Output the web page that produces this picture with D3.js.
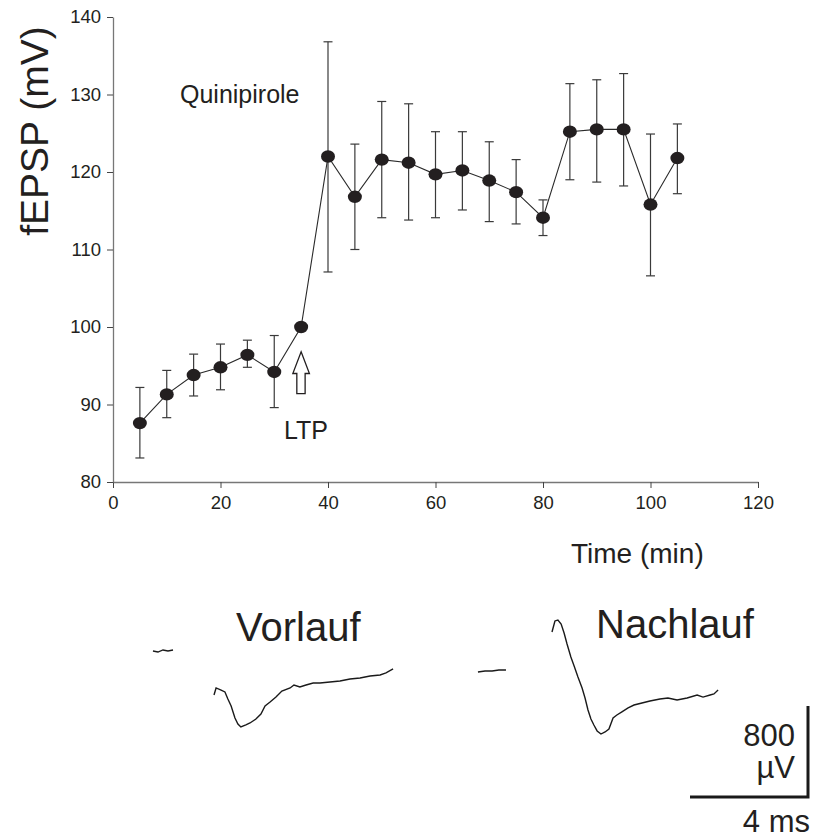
<!DOCTYPE html>
<html>
<head>
<meta charset="utf-8">
<script src="https://cdn.jsdelivr.net/npm/d3@7"></script>
<style>
    body { margin: 0; background: #fff; }
    svg text { font-family: Arial, 'Liberation Sans', sans-serif; fill: #231f20; }
</style>
</head>
<body>
<div class="fepspChart"></div>
<script>
// fEPSP over time, mean +/- error
let times = [5, 10, 15, 20, 25, 30, 35, 40, 45, 50, 55, 60, 65, 70, 75, 80, 85, 90, 95, 100, 105];
let means = [87.6, 91.3, 93.8, 94.8, 96.4, 94.2, 100.0, 122.0, 116.8, 121.6, 121.2, 119.7, 120.2, 118.9, 117.4, 114.1, 125.2, 125.5, 125.5, 115.8, 121.8];
let upper = [92.2, 94.4, 96.5, 97.8, 98.3, 98.9, null, 136.8, 123.6, 129.1, 128.8, 125.2, 125.2, 123.9, 121.6, 116.4, 131.4, 131.9, 132.7, 124.9, 126.2];
let lower = [83.1, 88.3, 91.1, 91.9, 94.8, 89.6, null, 107.1, 110.0, 114.1, 113.8, 114.1, 115.1, 113.6, 113.3, 111.8, 119.0, 118.7, 118.2, 106.6, 117.2];
let xTicks = [0, 20, 40, 60, 80, 100, 120];
let yTicks = [80, 90, 100, 110, 120, 130, 140];

// example traces, time in ms, amplitude in µV
let preBaseT = [0.10, 0.27, 0.44, 0.61, 0.78];
let preBaseV = [0, -9, 9, 0, 9];
let preT = [2.17, 2.24, 2.41, 2.54, 2.64, 2.75, 2.88, 2.98, 3.08, 3.25, 3.39, 3.59, 3.76, 3.90, 4.07, 4.27, 4.47, 4.75, 4.88, 5.08, 5.29, 5.53, 5.76, 6.10, 6.44, 6.78, 7.12, 7.46, 7.80, 8.00, 8.24];
let preV = [-387, -325, -343, -360, -422, -483, -589, -642, -668, -650, -633, -598, -554, -483, -448, -404, -352, -325, -299, -316, -299, -281, -281, -272, -264, -246, -237, -220, -211, -193, -158];
let postBaseT = [0.10, 0.34, 0.58, 0.81, 1.05];
let postBaseV = [-9, 0, 0, 9, 9];
let postT = [2.61, 2.71, 2.81, 2.92, 3.02, 3.12, 3.25, 3.36, 3.49, 3.63, 3.73, 3.83, 3.93, 4.03, 4.14, 4.27, 4.41, 4.54, 4.68, 4.81, 4.98, 5.19, 5.39, 5.66, 5.93, 6.27, 6.54, 6.85, 7.19, 7.53, 7.73, 7.97, 8.10, 8.24];
let postV = [343, 440, 448, 413, 334, 237, 123, 44, -53, -149, -237, -343, -422, -475, -527, -554, -536, -510, -413, -387, -360, -325, -299, -281, -264, -246, -237, -255, -237, -211, -229, -211, -202, -167];
let scaleBarMs = 4;
let scaleBarUv = 800;

let width = 814, height = 838;
let svg = d3.select('.fepspChart').append('svg')
    .attr('width', width)
    .attr('height', height);

let x = d3.scaleLinear().domain([0, 120]).range([113, 758]);
let y = d3.scaleLinear().domain([80, 140]).range([482, 17]);

// x axis
let xAxisGroup = svg.append('g')
    .attr('transform', 'translate(0,482)')
    .call(d3.axisBottom(x).tickValues(xTicks).tickSize(6).tickSizeOuter(0).tickPadding(8));
xAxisGroup.select('.domain').attr('stroke', '#777').attr('stroke-width', 1.3);
xAxisGroup.selectAll('line').attr('stroke', '#444').attr('stroke-width', 1);
xAxisGroup.selectAll('text').attr('font-size', 18.5).attr('fill', '#231f20');

// y axis
let yAxisGroup = svg.append('g')
    .attr('transform', 'translate(113,0)')
    .call(d3.axisLeft(y).tickValues(yTicks).tickSize(6).tickSizeOuter(0).tickPadding(6));
yAxisGroup.select('.domain').attr('stroke', '#777').attr('stroke-width', 1.3);
yAxisGroup.selectAll('line').attr('stroke', '#444').attr('stroke-width', 1);
yAxisGroup.selectAll('text').attr('font-size', 18.5).attr('fill', '#231f20');

let points = times.map((t, i) => ({t: t, m: means[i], hi: upper[i], lo: lower[i]}));

// error bars
let bars = svg.append('g').attr('stroke', '#3a3a3a').attr('stroke-width', 1.2);
points.filter(d => d.hi !== null).forEach(d => {
    bars.append('line').attr('x1', x(d.t)).attr('x2', x(d.t)).attr('y1', y(d.hi)).attr('y2', y(d.lo));
    bars.append('line').attr('x1', x(d.t) - 4.5).attr('x2', x(d.t) + 4.5).attr('y1', y(d.hi)).attr('y2', y(d.hi));
    bars.append('line').attr('x1', x(d.t) - 4.5).attr('x2', x(d.t) + 4.5).attr('y1', y(d.lo)).attr('y2', y(d.lo));
});

let valueLine = d3.line()
    .x(d => x(d.t))
    .y(d => y(d.m));

svg.append('path')
    .datum(points)
    .attr('d', valueLine)
    .attr('fill', 'none')
    .attr('stroke', '#2a2a2a')
    .attr('stroke-width', 1.1);

svg.append('g').selectAll('ellipse')
    .data(points)
    .enter().append('ellipse')
    .attr('cx', d => x(d.t))
    .attr('cy', d => y(d.m))
    .attr('rx', 7)
    .attr('ry', 6.2)
    .attr('fill', '#231f20');

// LTP arrow (hollow, pointing up)
let ax = x(35), aTop = y(96.8), aBot = y(91.4), aNeck = y(94.0);
svg.append('path')
    .attr('d', 'M' + ax + ',' + aTop +
        'L' + (ax + 8.3) + ',' + aNeck +
        'L' + (ax + 4) + ',' + aNeck +
        'L' + (ax + 4) + ',' + aBot +
        'L' + (ax - 4.3) + ',' + aBot +
        'L' + (ax - 4.3) + ',' + aNeck +
        'L' + (ax - 8.3) + ',' + aNeck + 'Z')
    .attr('fill', '#fff')
    .attr('stroke', '#231f20')
    .attr('stroke-width', 1.3);

svg.append('text').attr('x', 284).attr('y', 439).attr('font-size', 25).text('LTP');
svg.append('text').attr('x', 180).attr('y', 103).attr('font-size', 25).text('Quinipirole');
svg.append('text').attr('x', 571).attr('y', 563).attr('font-size', 28).text('Time (min)');
svg.append('text')
    .attr('transform', 'translate(48,131) rotate(-90)')
    .attr('text-anchor', 'middle')
    .attr('font-size', 39)
    .text('fEPSP (mV)');

// traces
let tx = d3.scaleLinear().domain([0, 1]).range([0, 29.5]);
let tv = d3.scaleLinear().domain([0, 800]).range([0, -91]);
let traceLine = d3.line().x(d => tx(d[0])).y(d => tv(d[1]));
let zip = (a, b) => a.map((v, i) => [v, b[i]]);

let pre = svg.append('g').attr('transform', 'translate(150,651)');
let post = svg.append('g').attr('transform', 'translate(475,671)');
[[pre, preBaseT, preBaseV], [pre, preT, preV], [post, postBaseT, postBaseV], [post, postT, postV]].forEach(tr => {
    tr[0].append('path')
        .datum(zip(tr[1], tr[2]))
        .attr('d', traceLine)
        .attr('fill', 'none')
        .attr('stroke', '#1a1a1a')
        .attr('stroke-width', 1.4);
});

svg.append('text').attr('x', 236).attr('y', 641).attr('font-size', 40).text('Vorlauf');
svg.append('text').attr('x', 596).attr('y', 638).attr('font-size', 40).text('Nachlauf');

// scale bar
let sb = svg.append('g').attr('transform', 'translate(808,797)');
sb.append('path')
    .attr('d', 'M' + (-tx(scaleBarMs)) + ',0L0,0L0,' + tv(scaleBarUv))
    .attr('fill', 'none')
    .attr('stroke', '#1a1a1a')
    .attr('stroke-width', 3);
svg.append('text').attr('x', 795).attr('y', 746).attr('text-anchor', 'end').attr('font-size', 31).text('800');
svg.append('text').attr('x', 795).attr('y', 778).attr('text-anchor', 'end').attr('font-size', 31).text('µV');
svg.append('text').attr('x', 810).attr('y', 832).attr('text-anchor', 'end').attr('font-size', 31).text('4 ms');
</script>
</body>
</html>
